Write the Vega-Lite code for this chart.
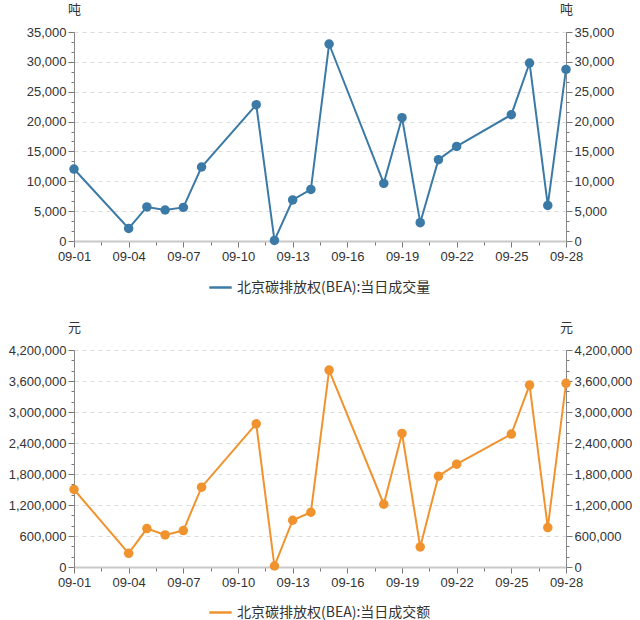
{
  "$schema": "https://vega.github.io/schema/vega-lite/v6.json",
  "padding": {"left": 3, "right": 0, "top": 3, "bottom": 0},
  "spacing": 26,
  "config": {
    "font": "Liberation Sans",
    "view": {"stroke": null},
    "axis": {"labelFont": "Liberation Sans", "labelFontSize": 13, "labelColor": "#333", "titleFont": "Noto Sans CJK SC", "titleFontSize": 13, "titleFontWeight": "normal", "titleColor": "#333", "tickColor": "#777", "domainColor": "#888"},
    "legend": {"labelFont": "Noto Sans CJK SC", "labelFontSize": 14, "labelColor": "#333", "symbolType": "stroke", "symbolSize": 500, "symbolStrokeWidth": 2.5, "title": null, "labelLimit": 400}
  },
  "datasets": {
    "d": [
      {"date": "2023-09-01", "vol": 12050, "amt": 1500000},
      {"date": "2023-09-04", "vol": 2110, "amt": 265000},
      {"date": "2023-09-05", "vol": 5700, "amt": 744000},
      {"date": "2023-09-06", "vol": 5190, "amt": 620000},
      {"date": "2023-09-07", "vol": 5630, "amt": 705000},
      {"date": "2023-09-08", "vol": 12390, "amt": 1545000},
      {"date": "2023-09-11", "vol": 22830, "amt": 2771000},
      {"date": "2023-09-12", "vol": 100, "amt": 19000},
      {"date": "2023-09-13", "vol": 6870, "amt": 905000},
      {"date": "2023-09-14", "vol": 8640, "amt": 1060000},
      {"date": "2023-09-15", "vol": 32990, "amt": 3812000},
      {"date": "2023-09-18", "vol": 9650, "amt": 1215000},
      {"date": "2023-09-19", "vol": 20650, "amt": 2585000},
      {"date": "2023-09-20", "vol": 3070, "amt": 388000},
      {"date": "2023-09-21", "vol": 13620, "amt": 1758000},
      {"date": "2023-09-22", "vol": 15840, "amt": 1990000},
      {"date": "2023-09-25", "vol": 21150, "amt": 2572000},
      {"date": "2023-09-26", "vol": 29810, "amt": 3522000},
      {"date": "2023-09-27", "vol": 5960, "amt": 764000},
      {"date": "2023-09-28", "vol": 28740, "amt": 3555000}
    ]
  },
  "vconcat": [
    {
      "width": 492,
      "height": 209,
      "data": {"name": "d"},
      "encoding": {
        "x": {
          "field": "date", "type": "temporal",
          "scale": {"type": "utc", "domain": [{"year": 2023, "month": 9, "date": 1, "utc": true}, {"year": 2023, "month": 9, "date": 28, "utc": true}]},
          "axis": {
            "title": null,
            "values": [
              {"year": 2023, "month": 9, "date": 1, "utc": true},
              {"year": 2023, "month": 9, "date": 2, "hours": 12, "utc": true},
              {"year": 2023, "month": 9, "date": 4, "utc": true},
              {"year": 2023, "month": 9, "date": 5, "hours": 12, "utc": true},
              {"year": 2023, "month": 9, "date": 7, "utc": true},
              {"year": 2023, "month": 9, "date": 8, "hours": 12, "utc": true},
              {"year": 2023, "month": 9, "date": 10, "utc": true},
              {"year": 2023, "month": 9, "date": 11, "hours": 12, "utc": true},
              {"year": 2023, "month": 9, "date": 13, "utc": true},
              {"year": 2023, "month": 9, "date": 14, "hours": 12, "utc": true},
              {"year": 2023, "month": 9, "date": 16, "utc": true},
              {"year": 2023, "month": 9, "date": 17, "hours": 12, "utc": true},
              {"year": 2023, "month": 9, "date": 19, "utc": true},
              {"year": 2023, "month": 9, "date": 20, "hours": 12, "utc": true},
              {"year": 2023, "month": 9, "date": 22, "utc": true},
              {"year": 2023, "month": 9, "date": 23, "hours": 12, "utc": true},
              {"year": 2023, "month": 9, "date": 25, "utc": true},
              {"year": 2023, "month": 9, "date": 26, "hours": 12, "utc": true},
              {"year": 2023, "month": 9, "date": 28, "utc": true}
            ],
            "labelExpr": "utchours(datum.value) === 0 ? utcFormat(datum.value, '%m-%d') : ''",
            "labelOverlap": false,
            "labelFlush": false,
            "tickSize": {"condition": {"test": "utchours(datum.value) === 0", "value": 6}, "value": 4},
            "domainColor": "#c8c8c8",
            "domainWidth": 2,
            "grid": false,
            "labelPadding": 3
          }
        }
      },
      "layer": [
        {
          "mark": {"type": "line", "strokeWidth": 2},
          "encoding": {
            "y": {
              "field": "vol", "type": "quantitative",
              "scale": {"domain": [0, 35000], "nice": false},
              "axis": {
                "orient": "left",
                "values": [0, 1666.667, 3333.333, 5000, 6666.667, 8333.333, 10000, 11666.667, 13333.333, 15000, 16666.667, 18333.333, 20000, 21666.667, 23333.333, 25000, 26666.667, 28333.333, 30000, 31666.667, 33333.333, 35000],
                "labelExpr": "abs(datum.value/5000 - round(datum.value/5000)) < 0.01 ? format(datum.value, ',') : ''",
                "labelOverlap": false,
                "tickSize": {"condition": {"test": "abs(datum.value/5000 - round(datum.value/5000)) < 0.01", "value": 6}, "value": 3},
                "grid": true,
                "gridDash": [4, 4],
                "gridColor": "#dcdcdc",
                "gridOpacity": {"condition": {"test": "abs(datum.value/5000 - round(datum.value/5000)) < 0.01 && datum.value > 0", "value": 1}, "value": 0},
                "title": "吨", "titleAngle": 0, "titleX": 0, "titleY": -23, "titleAlign": "center", "titleBaseline": "middle",
                "minExtent": 71, "maxExtent": 71, "labelPadding": 2
              }
            },
            "color": {"datum": "北京碳排放权(BEA):当日成交量", "scale": {"range": ["#3b7aa6"]}, "legend": {"orient": "none", "legendX": 134, "legendY": 243, "direction": "horizontal"}}
          }
        },
        {
          "mark": {"type": "point", "filled": true, "size": 90, "opacity": 1, "color": "#3b7aa6"},
          "encoding": {"y": {"field": "vol", "type": "quantitative", "axis": null}}
        },
        {
          "mark": {"type": "point", "opacity": 0},
          "encoding": {
            "y": {
              "field": "vol", "type": "quantitative",
              "axis": {
                "orient": "right",
                "values": [0, 1666.667, 3333.333, 5000, 6666.667, 8333.333, 10000, 11666.667, 13333.333, 15000, 16666.667, 18333.333, 20000, 21666.667, 23333.333, 25000, 26666.667, 28333.333, 30000, 31666.667, 33333.333, 35000],
                "labelExpr": "abs(datum.value/5000 - round(datum.value/5000)) < 0.01 ? format(datum.value, ',') : ''",
                "labelOverlap": false,
                "tickSize": {"condition": {"test": "abs(datum.value/5000 - round(datum.value/5000)) < 0.01", "value": 6}, "value": 3},
                "grid": false,
                "title": "吨", "titleAngle": 0, "titleX": 0, "titleY": -23, "titleAlign": "center", "titleBaseline": "middle",
                "labelPadding": 2
              }
            }
          }
        }
      ],
      "resolve": {"axis": {"y": "independent"}}
    },
    {
      "width": 492,
      "height": 217,
      "data": {"name": "d"},
      "encoding": {
        "x": {
          "field": "date", "type": "temporal",
          "scale": {"type": "utc", "domain": [{"year": 2023, "month": 9, "date": 1, "utc": true}, {"year": 2023, "month": 9, "date": 28, "utc": true}]},
          "axis": {
            "title": null,
            "values": [
              {"year": 2023, "month": 9, "date": 1, "utc": true},
              {"year": 2023, "month": 9, "date": 2, "hours": 12, "utc": true},
              {"year": 2023, "month": 9, "date": 4, "utc": true},
              {"year": 2023, "month": 9, "date": 5, "hours": 12, "utc": true},
              {"year": 2023, "month": 9, "date": 7, "utc": true},
              {"year": 2023, "month": 9, "date": 8, "hours": 12, "utc": true},
              {"year": 2023, "month": 9, "date": 10, "utc": true},
              {"year": 2023, "month": 9, "date": 11, "hours": 12, "utc": true},
              {"year": 2023, "month": 9, "date": 13, "utc": true},
              {"year": 2023, "month": 9, "date": 14, "hours": 12, "utc": true},
              {"year": 2023, "month": 9, "date": 16, "utc": true},
              {"year": 2023, "month": 9, "date": 17, "hours": 12, "utc": true},
              {"year": 2023, "month": 9, "date": 19, "utc": true},
              {"year": 2023, "month": 9, "date": 20, "hours": 12, "utc": true},
              {"year": 2023, "month": 9, "date": 22, "utc": true},
              {"year": 2023, "month": 9, "date": 23, "hours": 12, "utc": true},
              {"year": 2023, "month": 9, "date": 25, "utc": true},
              {"year": 2023, "month": 9, "date": 26, "hours": 12, "utc": true},
              {"year": 2023, "month": 9, "date": 28, "utc": true}
            ],
            "labelExpr": "utchours(datum.value) === 0 ? utcFormat(datum.value, '%m-%d') : ''",
            "labelOverlap": false,
            "labelFlush": false,
            "tickSize": {"condition": {"test": "utchours(datum.value) === 0", "value": 6}, "value": 4},
            "domainColor": "#c8c8c8",
            "domainWidth": 2,
            "grid": false,
            "labelPadding": 3
          }
        }
      },
      "layer": [
        {
          "mark": {"type": "line", "strokeWidth": 2},
          "encoding": {
            "y": {
              "field": "amt", "type": "quantitative",
              "scale": {"domain": [0, 4200000], "nice": false},
              "axis": {
                "orient": "left",
                "values": [0, 200000, 400000, 600000, 800000, 1000000, 1200000, 1400000, 1600000, 1800000, 2000000, 2200000, 2400000, 2600000, 2800000, 3000000, 3200000, 3400000, 3600000, 3800000, 4000000, 4200000],
                "labelExpr": "datum.value % 600000 === 0 ? format(datum.value, ',') : ''",
                "labelOverlap": false,
                "tickSize": {"condition": {"test": "datum.value % 600000 === 0", "value": 6}, "value": 3},
                "grid": true,
                "gridDash": [4, 4],
                "gridColor": "#dcdcdc",
                "gridOpacity": {"condition": {"test": "datum.value % 600000 === 0 && datum.value > 0", "value": 1}, "value": 0},
                "title": "元", "titleAngle": 0, "titleX": 0, "titleY": -23, "titleAlign": "center", "titleBaseline": "middle",
                "minExtent": 71, "maxExtent": 71, "labelPadding": 2
              }
            },
            "color": {"datum": "北京碳排放权(BEA):当日成交额", "scale": {"range": ["#f0932f"]}, "legend": {"orient": "none", "legendX": 134, "legendY": 250, "direction": "horizontal"}}
          }
        },
        {
          "mark": {"type": "point", "filled": true, "size": 90, "opacity": 1, "color": "#f0932f"},
          "encoding": {"y": {"field": "amt", "type": "quantitative", "axis": null}}
        },
        {
          "mark": {"type": "point", "opacity": 0},
          "encoding": {
            "y": {
              "field": "amt", "type": "quantitative",
              "axis": {
                "orient": "right",
                "values": [0, 200000, 400000, 600000, 800000, 1000000, 1200000, 1400000, 1600000, 1800000, 2000000, 2200000, 2400000, 2600000, 2800000, 3000000, 3200000, 3400000, 3600000, 3800000, 4000000, 4200000],
                "labelExpr": "datum.value % 600000 === 0 ? format(datum.value, ',') : ''",
                "labelOverlap": false,
                "tickSize": {"condition": {"test": "datum.value % 600000 === 0", "value": 6}, "value": 3},
                "grid": false,
                "title": "元", "titleAngle": 0, "titleX": 0, "titleY": -23, "titleAlign": "center", "titleBaseline": "middle",
                "labelPadding": 2
              }
            }
          }
        }
      ],
      "resolve": {"axis": {"y": "independent"}, "scale": {"color": "independent"}}
    }
  ],
  "resolve": {"scale": {"color": "independent"}, "legend": {"color": "independent"}}
}
